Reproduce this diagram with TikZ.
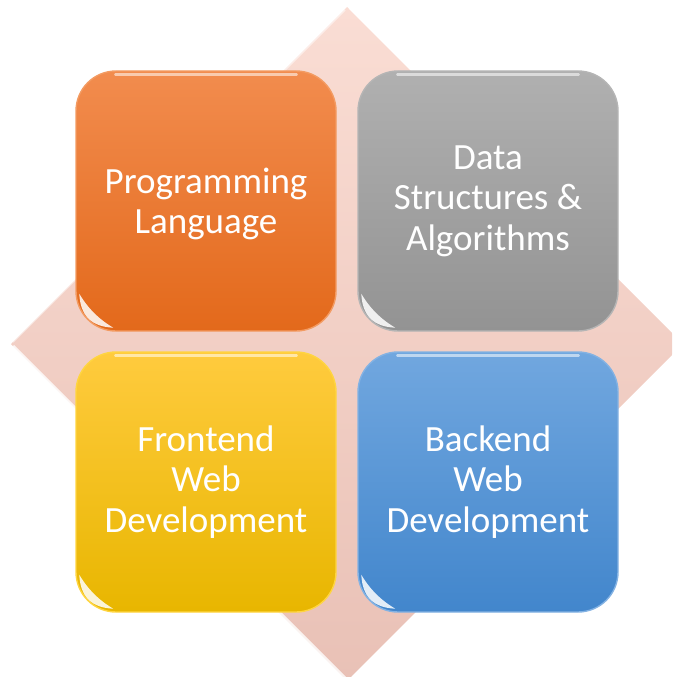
\documentclass[tikz,border=0pt]{standalone}
\usepackage{fontspec}
\setmainfont{Carlito}
\definecolor{diamA}{HTML}{FADDD4}
\definecolor{diamB}{HTML}{E9C1B6}
\definecolor{orA}{HTML}{F28C4E}
\definecolor{orM}{HTML}{EF7A2E}
\definecolor{orB}{HTML}{E3691B}
\definecolor{grA}{HTML}{B0B0B0}
\definecolor{grM}{HTML}{A3A3A3}
\definecolor{grB}{HTML}{939393}
\definecolor{yeA}{HTML}{FFCB3E}
\definecolor{yeM}{HTML}{FFC700}
\definecolor{yeB}{HTML}{E8B600}
\definecolor{blA}{HTML}{71A7DF}
\definecolor{blM}{HTML}{5A99DA}
\definecolor{blB}{HTML}{4286CC}
\tikzset{
  tile/.style={rounded corners=40pt, minimum width=260pt, minimum height=260pt,
    inner sep=0pt, align=center, text=white,
    font=\fontsize{37}{40.5}\selectfont},
  label text/.style={align=center, text=white, inner sep=0pt,
    font=\fontsize{37}{40.5}\selectfont},
  rim/.style={line width=1.4pt},
  glare/.style={fill=white, opacity=0.85}
}
\begin{document}
\begin{tikzpicture}[x=1pt,y=-1pt]
\useasboundingbox (0,0) rectangle (672,677);
\clip (0,0) rectangle (672,677);
% background diamond
\path[top color=diamA, bottom color=diamB] (347,7) -- (683,344) -- (347,681) -- (11,344) -- cycle;
\draw[white, line width=3pt, opacity=0.8] (13,346) -- (345,678);
\draw[white, line width=1.5pt, opacity=0.5] (13,342) -- (345,10);
% tiles
\node[tile, top color=orA, middle color=orM, bottom color=orB, draw=orM!75!white, rim] (pl) at (206,201) {};
\node[label text] (plt) at (206,204) {Programming\\Language};
\node[tile, top color=grA, middle color=grM, bottom color=grB, draw=grM!80!white, rim] (ds) at (488,201) {Data\\Structures \&\\Algorithms};
\node[tile, top color=yeA, middle color=yeM, bottom color=yeB, draw=yeM!75!white, rim] (fe) at (206,482) {Frontend\\Web\\Development};
\node[tile, top color=blA, middle color=blM, bottom color=blB, draw=blM!75!white, rim] (be) at (488,482) {Backend\\Web\\Development};
% glossy highlights
\foreach \n in {pl,ds,fe,be}{
  \draw[white, line width=2.5pt, opacity=0.55, line cap=round]
    ([xshift=40pt,yshift=-4pt]\n.north west) -- ([xshift=-40pt,yshift=-4pt]\n.north east);
  \path[glare]
    ([xshift=4pt,yshift=38pt]\n.south west)
    .. controls ([xshift=5pt,yshift=16pt]\n.south west) and ([xshift=16pt,yshift=5pt]\n.south west)
    .. ([xshift=38pt,yshift=4pt]\n.south west)
    .. controls ([xshift=24pt,yshift=12pt]\n.south west) and ([xshift=12pt,yshift=24pt]\n.south west)
    .. cycle;
}
\end{tikzpicture}
\end{document}
